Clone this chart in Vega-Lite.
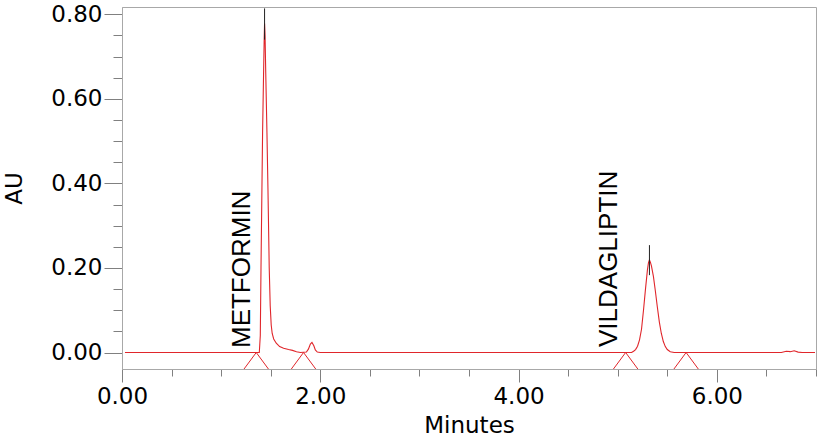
{
  "$schema": "https://vega.github.io/schema/vega-lite/v6.json",
  "width": 694,
  "height": 362,
  "autosize": {"type": "none"},
  "padding": {"left": 122, "top": 7, "right": 2, "bottom": 77},
  "background": "white",
  "config": {
    "view": {"stroke": "#a8a8a8", "strokeWidth": 1},
    "axis": {"grid": false}
  },
  "datasets": {
    "trace": [
      {"t": 0.03, "au": 0}, {"t": 1.36, "au": 0}, {"t": 1.385, "au": 0.0}, {"t": 1.395, "au": 0.04},
      {"t": 1.402, "au": 0.2}, {"t": 1.41, "au": 0.36}, {"t": 1.418, "au": 0.52}, {"t": 1.428, "au": 0.66},
      {"t": 1.434, "au": 0.74}, {"t": 1.438, "au": 0.778}, {"t": 1.443, "au": 0.75}, {"t": 1.45, "au": 0.66},
      {"t": 1.462, "au": 0.52}, {"t": 1.472, "au": 0.39}, {"t": 1.485, "au": 0.2}, {"t": 1.495, "au": 0.11},
      {"t": 1.505, "au": 0.065}, {"t": 1.515, "au": 0.045}, {"t": 1.53, "au": 0.032}, {"t": 1.556, "au": 0.022},
      {"t": 1.59, "au": 0.014}, {"t": 1.63, "au": 0.01}, {"t": 1.68, "au": 0.007}, {"t": 1.72, "au": 0.005},
      {"t": 1.76, "au": 0.002}, {"t": 1.8, "au": 0.0}, {"t": 1.86, "au": 0.001}, {"t": 1.88, "au": 0.008},
      {"t": 1.9, "au": 0.02}, {"t": 1.916, "au": 0.024}, {"t": 1.935, "au": 0.016}, {"t": 1.95, "au": 0.006},
      {"t": 1.97, "au": 0.001}, {"t": 2.0, "au": 0}, {"t": 5.14, "au": 0}, {"t": 5.16, "au": 0.003},
      {"t": 5.18, "au": 0.007}, {"t": 5.2, "au": 0.015}, {"t": 5.22, "au": 0.03}, {"t": 5.24, "au": 0.055},
      {"t": 5.26, "au": 0.1}, {"t": 5.28, "au": 0.15}, {"t": 5.3, "au": 0.196}, {"t": 5.31, "au": 0.212},
      {"t": 5.32, "au": 0.219}, {"t": 5.33, "au": 0.213}, {"t": 5.34, "au": 0.205}, {"t": 5.36, "au": 0.18},
      {"t": 5.38, "au": 0.145}, {"t": 5.4, "au": 0.107}, {"t": 5.42, "au": 0.072}, {"t": 5.44, "au": 0.045},
      {"t": 5.46, "au": 0.026}, {"t": 5.48, "au": 0.014}, {"t": 5.5, "au": 0.007}, {"t": 5.53, "au": 0.002},
      {"t": 5.57, "au": 0}, {"t": 6.65, "au": 0}, {"t": 6.7, "au": 0.003}, {"t": 6.74, "au": 0.002},
      {"t": 6.78, "au": 0.004}, {"t": 6.82, "au": 0.001}, {"t": 6.86, "au": 0}, {"t": 6.99, "au": 0}
    ],
    "marks": [
      {"id": "a", "t": 1.231, "au": -0.039}, {"id": "a", "t": 1.354, "au": 0}, {"id": "a", "t": 1.477, "au": -0.039},
      {"id": "b", "t": 1.708, "au": -0.039}, {"id": "b", "t": 1.831, "au": 0}, {"id": "b", "t": 1.954, "au": -0.039},
      {"id": "c", "t": 4.957, "au": -0.039}, {"id": "c", "t": 5.08, "au": 0}, {"id": "c", "t": 5.203, "au": -0.039},
      {"id": "d", "t": 5.567, "au": -0.039}, {"id": "d", "t": 5.69, "au": 0}, {"id": "d", "t": 5.813, "au": -0.039}
    ],
    "apex": [
      {"t": 1.438, "au": 0.74, "hi": 0.814},
      {"t": 5.32, "au": 0.183, "hi": 0.254}
    ],
    "labels": [
      {"t": 1.294, "au": 0.0106, "name": "METFORMIN"},
      {"t": 4.994, "au": 0.013, "name": "VILDAGLIPTIN"}
    ]
  },
  "encoding": {
    "x": {
      "field": "t", "type": "quantitative",
      "scale": {"domain": [0, 7], "nice": false, "zero": false},
      "axis": {
        "title": "Minutes",
        "values": [0, 0.5, 1, 1.5, 2, 2.5, 3, 3.5, 4, 4.5, 5, 5.5, 6, 6.5, 7],
        "labelExpr": "datum.value % 2 === 0 ? format(datum.value, '.2f') : ''",
        "tickSize": {"condition": {"test": "datum.value % 2 === 0", "value": 13}, "value": 7},
        "tickColor": "#808080",
        "domainColor": "#a8a8a8",
        "labelFont": "DejaVu Sans", "labelFontSize": 23, "labelColor": "#000000",
        "labelPadding": 3, "labelFlush": false, "labelOverlap": false,
        "titleFont": "DejaVu Sans", "titleFontSize": 23, "titleFontWeight": "normal", "titleColor": "#000000",
        "titlePadding": 6
      }
    },
    "y": {
      "field": "au", "type": "quantitative",
      "scale": {"domain": [-0.039, 0.8173], "nice": false, "zero": false},
      "axis": {
        "title": "AU",
        "values": [0, 0.05, 0.1, 0.15, 0.2, 0.25, 0.3, 0.35, 0.4, 0.45, 0.5, 0.55, 0.6, 0.65, 0.7, 0.75, 0.8],
        "labelExpr": "abs(datum.value * 5 - round(datum.value * 5)) < 0.001 ? format(datum.value, '.2f') : ''",
        "tickSize": {"condition": {"test": "abs(datum.value * 5 - round(datum.value * 5)) < 0.001", "value": 18}, "value": 9},
        "tickColor": "#808080",
        "domainColor": "#a8a8a8",
        "labelFont": "DejaVu Sans", "labelFontSize": 23, "labelColor": "#000000",
        "labelPadding": 2, "labelFlush": false, "labelOverlap": false,
        "titleFont": "DejaVu Sans", "titleFontSize": 23, "titleFontWeight": "normal", "titleColor": "#000000",
        "titleX": -96, "titleY": 181, "titleAngle": 270, "titleBaseline": "bottom", "titleAlign": "center"
      }
    }
  },
  "layer": [
    {
      "data": {"name": "trace"},
      "mark": {"type": "line", "color": "#e0262b", "strokeWidth": 1.1, "interpolate": "linear"}
    },
    {
      "data": {"name": "marks"},
      "mark": {"type": "line", "color": "#e0262b", "strokeWidth": 1},
      "encoding": {"detail": {"field": "id"}}
    },
    {
      "data": {"name": "apex"},
      "mark": {"type": "rule", "color": "#222222", "strokeWidth": 1},
      "encoding": {"y2": {"field": "hi"}}
    },
    {
      "data": {"name": "labels"},
      "mark": {"type": "text", "angle": 270, "align": "left", "baseline": "alphabetic", "font": "Liberation Sans", "fontSize": 26, "color": "#000000"},
      "encoding": {"text": {"field": "name"}}
    }
  ]
}
